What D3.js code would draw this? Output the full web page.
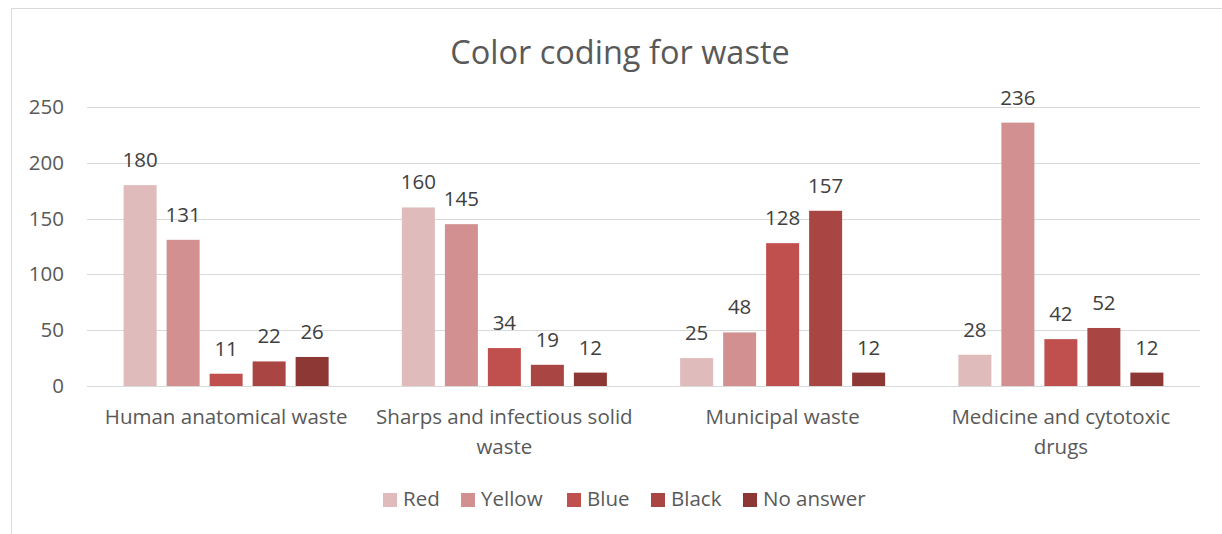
<!DOCTYPE html>
<html><head><meta charset="utf-8">
<script src="https://cdn.jsdelivr.net/npm/d3@7"></script>
<style>body{margin:0;background:#fff}svg{display:block}</style>
</head><body>
<script>
const categories = ["Human anatomical waste", "Sharps and infectious solid waste", "Municipal waste", "Medicine and cytotoxic drugs"];
const categoryLines = [["Human anatomical waste"], ["Sharps and infectious solid", "waste"], ["Municipal waste"], ["Medicine and cytotoxic", "drugs"]];
const seriesNames = ["Red", "Yellow", "Blue", "Black", "No answer"];
const redValues = [180, 160, 25, 28];
const yellowValues = [131, 145, 48, 236];
const blueValues = [11, 34, 128, 42];
const blackValues = [22, 19, 157, 52];
const noAnswerValues = [26, 12, 12, 12];
const yTicks = [0, 50, 100, 150, 200, 250];
const colors = ["#e0bbbb", "#d29090", "#c0504d", "#a94543", "#8e3836"];

const seriesValues = [redValues, yellowValues, blueValues, blackValues, noAnswerValues];
const W = 1222, H = 534;
const font = "'Open Sans', sans-serif";
const fs = 20.5;
const svg = d3.select("body").append("svg").attr("width", W).attr("height", H);

svg.append("rect").attr("x", 11.5).attr("y", 8.5).attr("width", W + 20).attr("height", H + 20)
  .attr("fill", "#fff").attr("stroke", "#d9d9d9").attr("stroke-width", 1);

const x0 = d3.scaleBand().domain(categories).range([87, 1200]).padding(0);
const groupW = 205;
const x1 = d3.scaleBand().domain(seriesNames).range([0, groupW]).paddingInner(10/43).paddingOuter(0);
const y = d3.scaleLinear().domain([0, 250]).range([386, 107]);

svg.append("text").attr("x", 620).attr("y", 64).attr("text-anchor", "middle")
  .attr("font-family", font).attr("font-size", 32.5).attr("fill", "#595959").text("Color coding for waste");

const grid = svg.append("g");
grid.selectAll("line").data(yTicks).join("line")
  .attr("x1", 87).attr("x2", 1200).attr("y1", d => Math.round(y(d)) + 0.5).attr("y2", d => Math.round(y(d)) + 0.5)
  .attr("stroke", "#d9d9d9").attr("stroke-width", 1.2);

const yAxis = d3.axisLeft(y).tickValues(yTicks).tickSize(0).tickPadding(0);
const ya = svg.append("g").attr("transform", "translate(64,0)").call(yAxis);
ya.select(".domain").remove();
ya.selectAll("text").attr("font-family", font).attr("font-size", fs).attr("fill", "#595959");

const groups = svg.append("g").selectAll("g").data(categories).join("g")
  .attr("transform", d => `translate(${x0(d) + (x0.bandwidth() - groupW) / 2},0)`);

groups.each(function(cat, ci) {
  const g = d3.select(this);
  seriesNames.forEach((s, si) => {
    const v = seriesValues[si][ci];
    g.append("rect").attr("x", x1(s)).attr("y", y(v)).attr("width", x1.bandwidth()).attr("height", y(0) - y(v))
      .attr("fill", colors[si]);
    g.append("text").attr("x", x1(s) + x1.bandwidth() / 2).attr("y", y(v) - 18)
      .attr("text-anchor", "middle").attr("font-family", font).attr("font-size", fs).attr("fill", "#404040").text(v);
  });
});

const xl = svg.append("g");
categories.forEach((c, i) => {
  const t = xl.append("text").attr("x", x0(c) + x0.bandwidth() / 2).attr("y", 424)
    .attr("text-anchor", "middle").attr("font-family", font).attr("font-size", fs).attr("fill", "#595959");
  categoryLines[i].forEach((ln, li) => {
    t.append("tspan").attr("x", x0(c) + x0.bandwidth() / 2).attr("dy", li === 0 ? 0 : 30).text(ln);
  });
});

const legendX = [383, 461, 567, 651, 743];
const lg = svg.append("g");
seriesNames.forEach((s, i) => {
  lg.append("rect").attr("x", legendX[i]).attr("y", 493).attr("width", 14).attr("height", 14).attr("fill", colors[i]);
  lg.append("text").attr("x", legendX[i] + 20).attr("y", 506).attr("font-family", font).attr("font-size", fs)
    .attr("fill", "#595959").text(s);
});
</script>
</body></html>
